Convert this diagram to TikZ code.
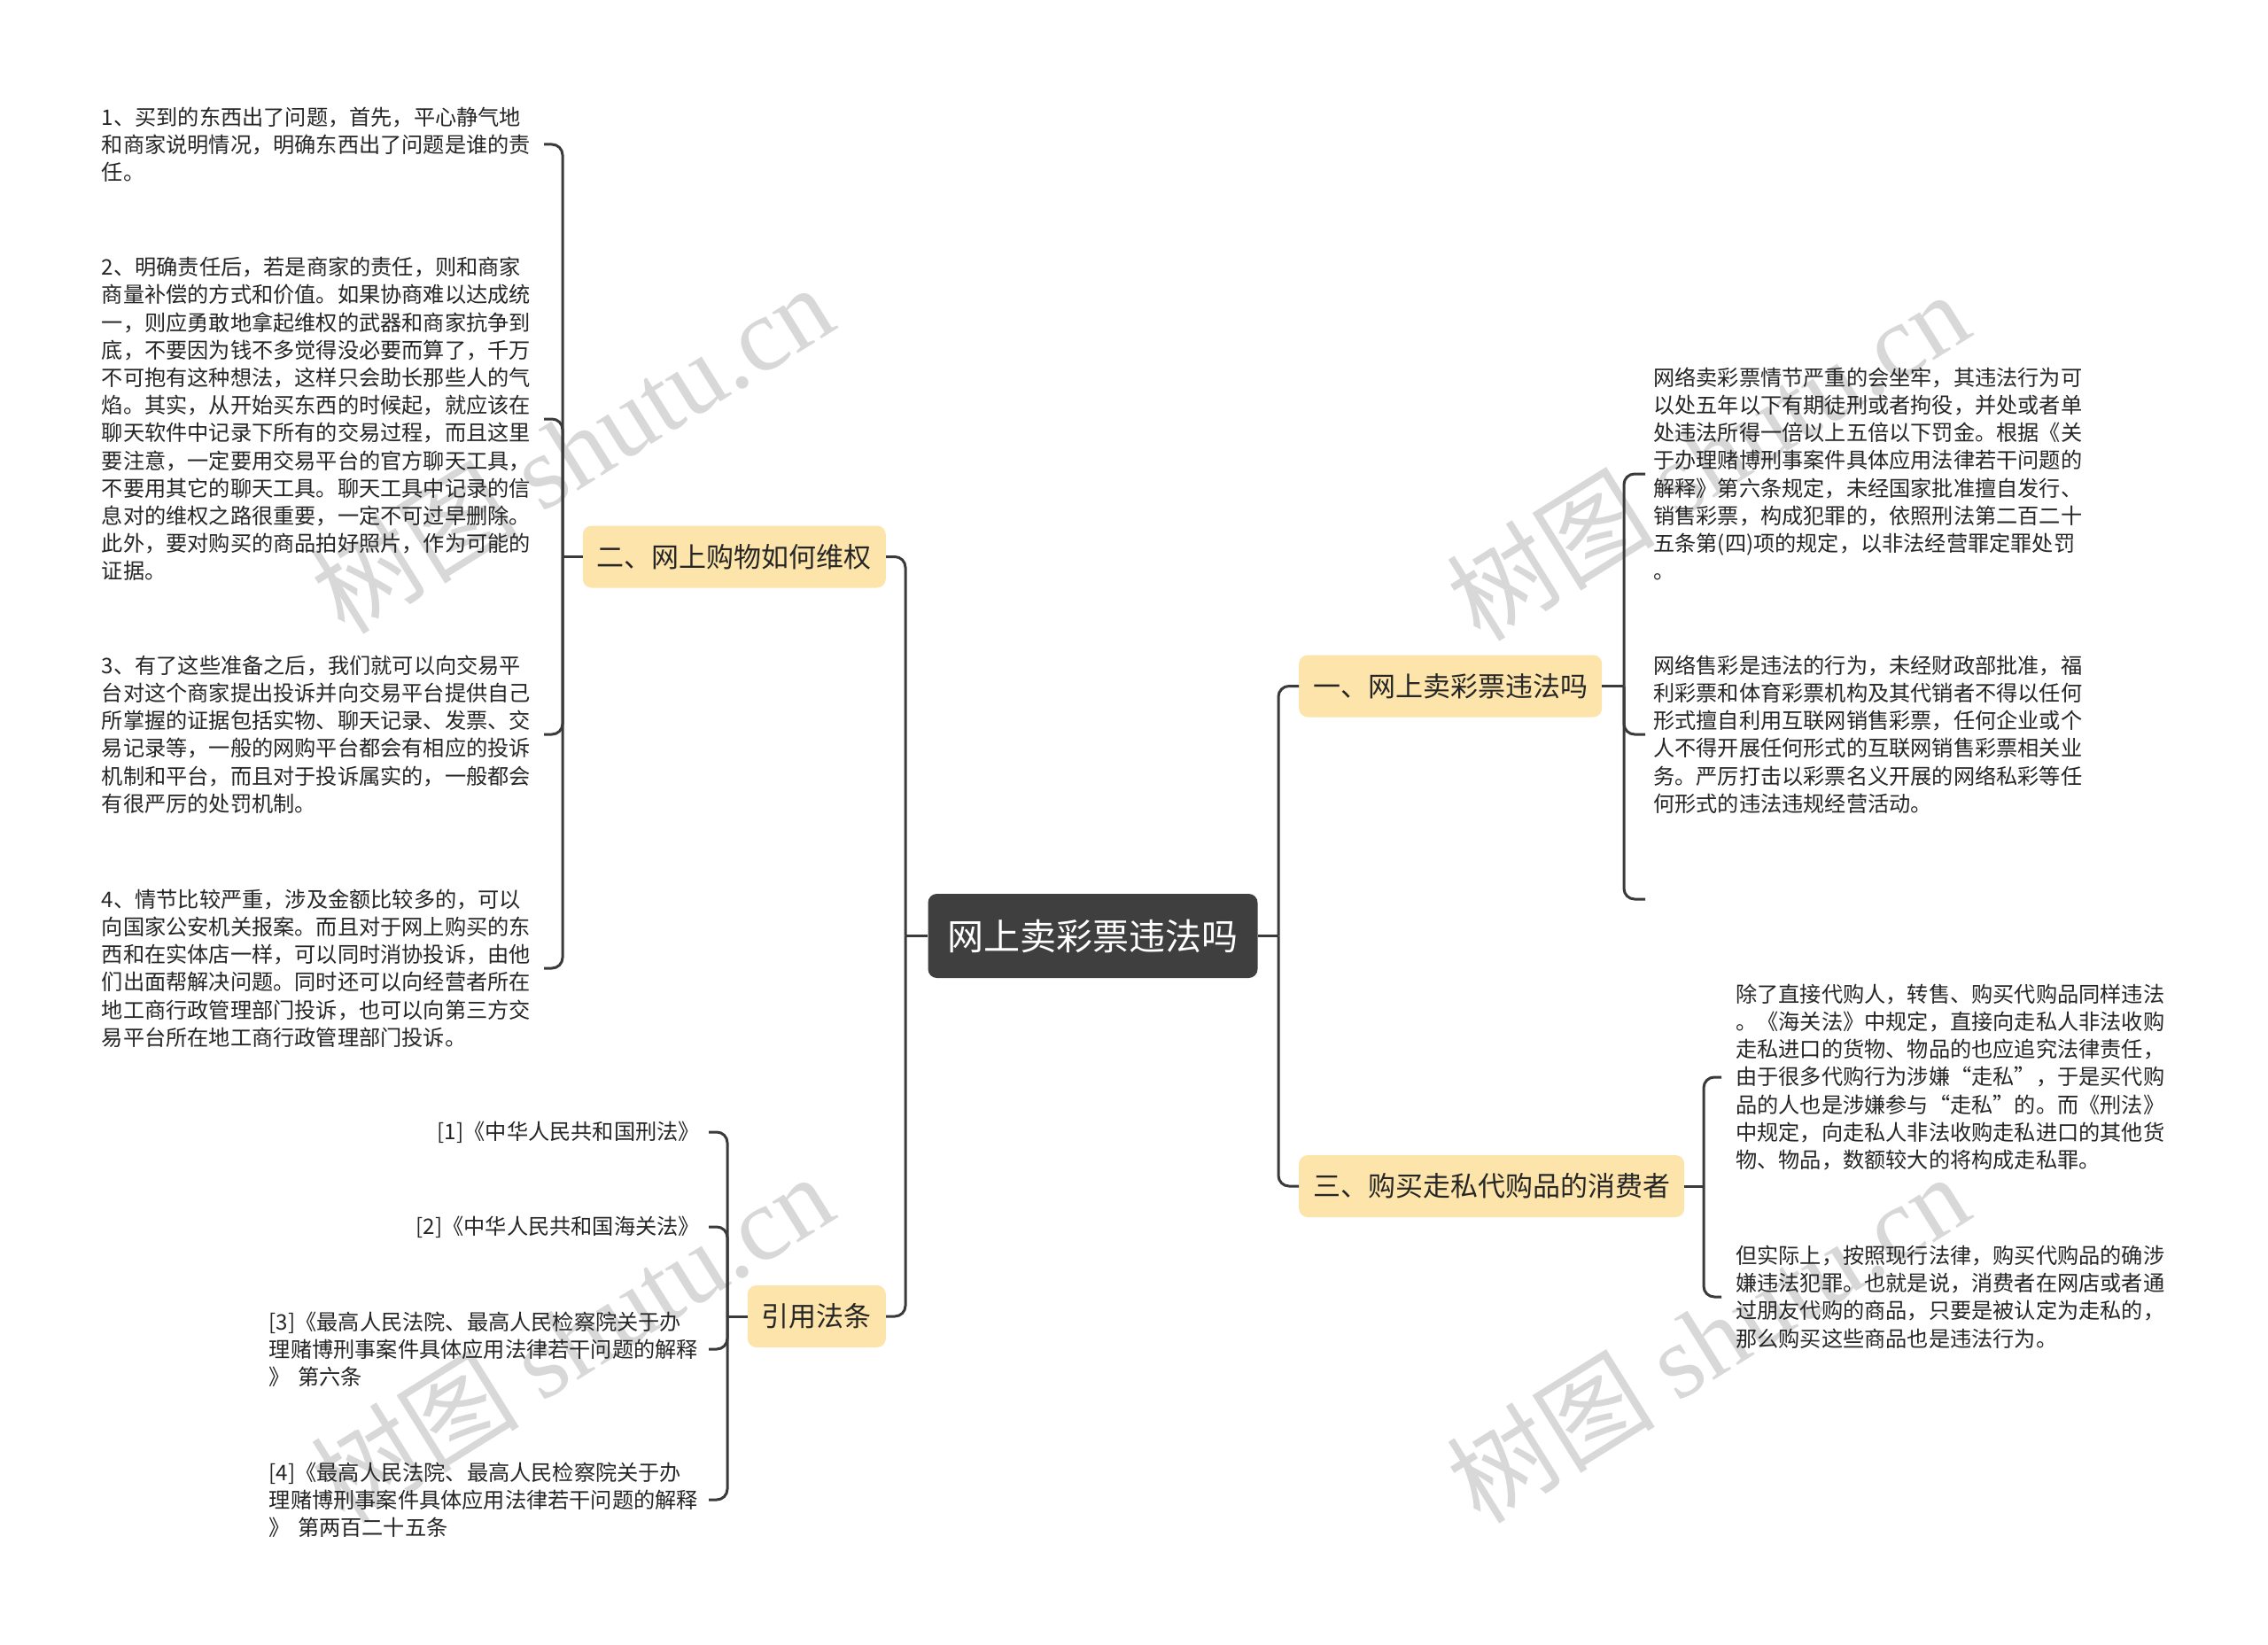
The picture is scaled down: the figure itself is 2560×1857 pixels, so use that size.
\documentclass[tikz,border=0pt]{standalone}
\usepackage{fontspec}
\setmainfont{Noto Sans CJK SC}
\newfontfamily\wmserif{Liberation Serif}
\definecolor{nodefill}{HTML}{FCE4AA}
\definecolor{rootfill}{HTML}{3F3F3F}
\definecolor{linecol}{HTML}{3A3A3A}
\definecolor{txt}{HTML}{262626}
\definecolor{wm}{HTML}{D8D8D8}
\begin{document}
\begin{tikzpicture}[x=1pt,y=-1pt,
  conn/.style={draw=linecol, line width=3pt, rounded corners=12pt},
  straight/.style={draw=linecol, line width=3pt},
  rootbox/.style={fill=rootfill, rounded corners=10pt, text=white, font=\fontsize{41}{48}\selectfont, inner xsep=22pt, minimum height=95pt},
  branch/.style={fill=nodefill, rounded corners=10pt, text=txt, font=\fontsize{31}{37}\selectfont, inner xsep=16pt, minimum height=70pt},
  leaf/.style={text=txt, font=\fontsize{24.2}{31.2}\selectfont, text width=487pt, align=left, inner ysep=4pt},
  refs/.style={text=txt, font=\fontsize{24.2}{31.2}\selectfont, inner ysep=4pt, inner xsep=10pt},
  wmark/.style={text=wm, rotate=32, font=\fontsize{118}{124}\selectfont}
]
\useasboundingbox (0,0) rectangle (2560,1857);
\fill[white] (0,0) rectangle (2560,1857);

% watermarks
\node[wmark] (w1) at (645,506) {树图 {\wmserif shutu.cn}};
\node[wmark] (w2) at (1927,514) {树图 {\wmserif shutu.cn}};
\node[wmark] (w3) at (645,1510) {树图 {\wmserif shutu.cn}};
\node[wmark] (w4) at (1927,1510) {树图 {\wmserif shutu.cn}};

% root and branches
\node[rootbox] (root) at (1233.5,1056.5) {网上卖彩票违法吗};
\node[branch, anchor=east] (n2) at (1000,628.5) {二、网上购物如何维权};
\node[branch, anchor=east] (nC) at (1000,1486) {引用法条};
\node[branch, anchor=west] (n1) at (1466,774.5) {一、网上卖彩票违法吗};
\node[branch, anchor=west] (n3) at (1466,1339) {三、购买走私代购品的消费者};

% junctions
\coordinate (jL) at (1022,1056.5);
\coordinate (jR) at (1443,1056.5);
\coordinate (b2) at (635,628.5);
\coordinate (bC) at (821,1486);
\coordinate (b1) at (1833,774.5);
\coordinate (b3) at (1923,1339);

% left leaves
\node[leaf, anchor=east, inner xsep=12pt] (l1) at (614,163) {1、买到的东西出了问题，首先，平心静气地\\和商家说明情况，明确东西出了问题是谁的责\\任。};
\node[leaf, anchor=east, inner xsep=12pt] (l2) at (614,473) {2、明确责任后，若是商家的责任，则和商家\\商量补偿的方式和价值。如果协商难以达成统\\一，则应勇敢地拿起维权的武器和商家抗争到\\底，不要因为钱不多觉得没必要而算了，千万\\不可抱有这种想法，这样只会助长那些人的气\\焰。其实，从开始买东西的时候起，就应该在\\聊天软件中记录下所有的交易过程，而且这里\\要注意，一定要用交易平台的官方聊天工具，\\不要用其它的聊天工具。聊天工具中记录的信\\息对的维权之路很重要，一定不可过早删除。\\此外，要对购买的商品拍好照片，作为可能的\\证据。};
\node[leaf, anchor=east, inner xsep=12pt] (l3) at (614,829) {3、有了这些准备之后，我们就可以向交易平\\台对这个商家提出投诉并向交易平台提供自己\\所掌握的证据包括实物、聊天记录、发票、交\\易记录等，一般的网购平台都会有相应的投诉\\机制和平台，而且对于投诉属实的，一般都会\\有很严厉的处罚机制。};
\node[leaf, anchor=east, inner xsep=12pt] (l4) at (614,1093) {4、情节比较严重，涉及金额比较多的，可以\\向国家公安机关报案。而且对于网上购买的东\\西和在实体店一样，可以同时消协投诉，由他\\们出面帮解决问题。同时还可以向经营者所在\\地工商行政管理部门投诉，也可以向第三方交\\易平台所在地工商行政管理部门投诉。};

% references
\node[refs, anchor=east] (c1) at (800,1278) {[1]《中华人民共和国刑法》};
\node[refs, anchor=east] (c2) at (800,1385) {[2]《中华人民共和国海关法》};
\node[leaf, anchor=east, inner xsep=9pt] (c3) at (800,1523) {[3]《最高人民法院、最高人民检察院关于办\\理赌博刑事案件具体应用法律若干问题的解释\\》 第六条};
\node[leaf, anchor=east, inner xsep=9pt] (c4) at (800,1693) {[4]《最高人民法院、最高人民检察院关于办\\理赌博刑事案件具体应用法律若干问题的解释\\》 第两百二十五条};

% right leaves of 一
\node[leaf, anchor=west, inner xsep=9pt] (r1) at (1857,535) {网络卖彩票情节严重的会坐牢，其违法行为可\\以处五年以下有期徒刑或者拘役，并处或者单\\处违法所得一倍以上五倍以下罚金。根据《关\\于办理赌博刑事案件具体应用法律若干问题的\\解释》第六条规定，未经国家批准擅自发行、\\销售彩票，构成犯罪的，依照刑法第二百二十\\五条第(四)项的规定，以非法经营罪定罪处罚\\。};
\node[leaf, anchor=west, inner xsep=9pt] (r2) at (1857,829) {网络售彩是违法的行为，未经财政部批准，福\\利彩票和体育彩票机构及其代销者不得以任何\\形式擅自利用互联网销售彩票，任何企业或个\\人不得开展任何形式的互联网销售彩票相关业\\务。严厉打击以彩票名义开展的网络私彩等任\\何形式的违法违规经营活动。};
\coordinate (r3) at (1857,1015);

% right leaves of 三
\node[leaf, anchor=west, inner xsep=16pt] (s1) at (1943,1216) {除了直接代购人，转售、购买代购品同样违法\\。《海关法》中规定，直接向走私人非法收购\\走私进口的货物、物品的也应追究法律责任，\\由于很多代购行为涉嫌“走私”，于是买代购\\品的人也是涉嫌参与“走私”的。而《刑法》\\中规定，向走私人非法收购走私进口的其他货\\物、物品，数额较大的将构成走私罪。};
\node[leaf, anchor=west, inner xsep=16pt] (s2) at (1943,1464) {但实际上，按照现行法律，购买代购品的确涉\\嫌违法犯罪。也就是说，消费者在网店或者通\\过朋友代购的商品，只要是被认定为走私的，\\那么购买这些商品也是违法行为。};

% main connectors
\draw[conn] (n2.east) -| (jL);
\draw[conn] (nC.east) -| (jL);
\draw[straight] (jL) -- (root.west);
\draw[conn] (n1.west) -| (jR);
\draw[conn] (n3.west) -| (jR);
\draw[straight] (jR) -- (root.east);

% bracket of 二
\draw[straight] (b2) -- (n2.west);
\draw[conn] (l1.east) -| (b2);
\draw[conn] (l2.east) -| (b2);
\draw[conn] (l3.east) -| (b2);
\draw[conn] (l4.east) -| (b2);

% bracket of 引用法条
\draw[straight] (bC) -- (nC.west);
\draw[conn] (c1.east) -| (bC);
\draw[conn] (c2.east) -| (bC);
\draw[conn] (c3.east) -| (bC);
\draw[conn] (c4.east) -| (bC);

% bracket of 一
\draw[straight] (n1.east) -- (b1);
\draw[conn] (r1.west) -| (b1);
\draw[conn] (r2.west) -| (b1);
\draw[conn] (r3) -| (b1);

% bracket of 三
\draw[straight] (n3.east) -- (b3);
\draw[conn] (s1.west) -| (b3);
\draw[conn] (s2.west) -| (b3);
\end{tikzpicture}
\end{document}
